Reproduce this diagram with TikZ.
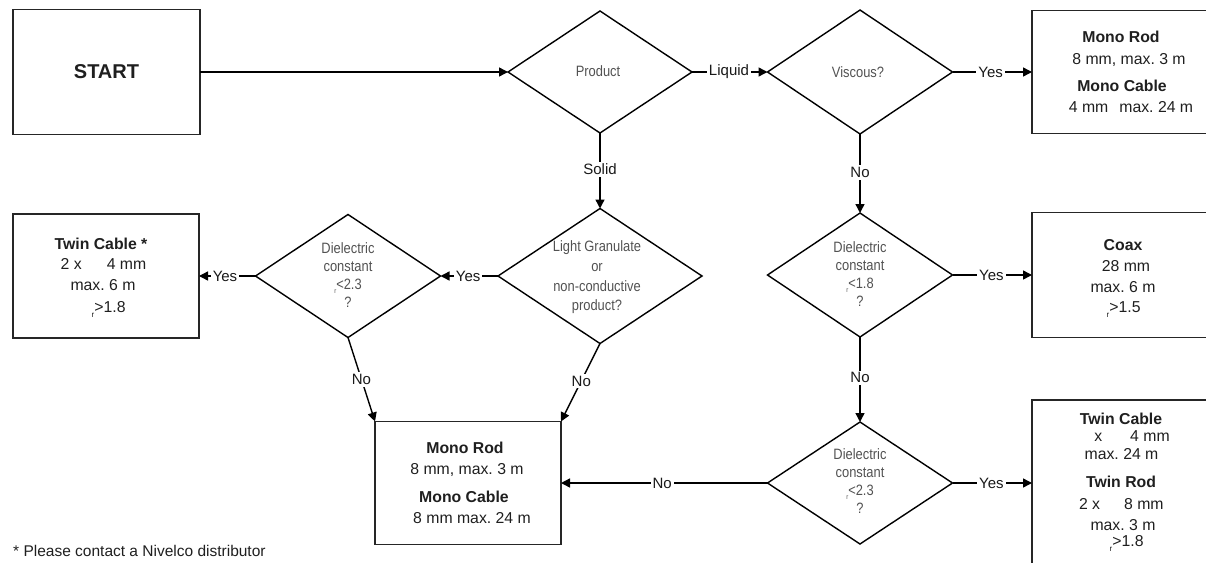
\documentclass[tikz,border=0pt]{standalone}
\usepackage{fontspec}
\setmainfont{Liberation Sans}
\newfontfamily\narrowsf[FakeStretch=0.86]{Liberation Sans}
\usetikzlibrary{shapes.geometric,arrows.meta}
\newcommand\bxfont{\fontsize{15.8}{18}\selectfont}
\newcommand\lbfont{\fontsize{15}{18}\selectfont}
\newcommand\dmfont{\narrowsf\fontsize{15}{18}\selectfont}
\newcommand\dmfontlg{\narrowsf\fontsize{15}{19.7}\selectfont}
\newcommand\myRb{\raisebox{-5pt}{\fontsize{8}{8}\selectfont r}}
\newcommand\myRd{\raisebox{-4pt}{\fontsize{7}{7}\selectfont r}}
\frenchspacing
\begin{document}
\begin{tikzpicture}[x=1pt,y=-1pt,
  ln/.style={line width=1.4pt, draw=black},
  arr/.style={ln, -{Triangle[length=9pt,width=9pt]}},
  box/.style={draw=black!85, line width=1.3pt, inner sep=0pt, outer sep=0pt},
  dia/.style={diamond, draw=black, line width=1.4pt, inner sep=0pt, outer sep=0pt},
  lbl/.style={fill=white, inner sep=2pt, font=\lbfont, text=black!90},
  bt/.style={anchor=base, inner sep=0pt, font=\bxfont, text=black!88},
  bh/.style={anchor=base, inner sep=0pt, font=\bxfont\bfseries, text=black!88},
  bw/.style={anchor=base west, inner sep=0pt, font=\bxfont, text=black!88},
  dt/.style={align=center, inner sep=0pt, font=\dmfont, text=black!68},
  dtl/.style={align=center, inner sep=0pt, font=\dmfontlg, text=black!68}
]
\useasboundingbox (0,0) rectangle (1206,562);
\clip (0,0) rectangle (1206,562);

% boxes
\node[box, minimum width=187pt, minimum height=125pt,
      font=\bfseries\fontsize{20}{24}\selectfont, text=black!88] (start) at (106.5,72) {START};
\node[box, minimum width=180pt, minimum height=123pt] (mr1) at (1122,72) {};
\node[box, minimum width=186pt, minimum height=124pt] (twinL) at (106,276) {};
\node[box, minimum width=180pt, minimum height=125pt] (coax) at (1122,275) {};
\node[box, minimum width=186pt, minimum height=123pt] (mrmid) at (468,483) {};
\node[box, minimum width=180pt, minimum height=175pt] (twinR) at (1122,487.5) {};

% diamonds
\node[dia, minimum width=184pt, minimum height=122pt] (prod) at (600,72) {};
\node[dia, minimum width=185pt, minimum height=124pt] (visc) at (860,72) {};
\node[dia, minimum width=204pt, minimum height=135pt] (lg) at (600,276) {};
\node[dia, minimum width=185pt, minimum height=123pt] (d1) at (348,276) {};
\node[dia, minimum width=185pt, minimum height=124pt] (d2) at (860,275) {};
\node[dia, minimum width=185pt, minimum height=122pt] (d3) at (860,483) {};

% diamond texts
\node[dt] (prodt) at (598,71) {Product};
\node[dt] (visct) at (858,72) {Viscous?};
\node[dtl] (lgt) at (597,277.5) {Light Granulate\\or\\non-conductive\\product?};
\node[dt] (d1t) at (348,275) {Dielectric\\constant\\\myRd<2.3\\?};
\node[dt] (d2t) at (860,274) {Dielectric\\constant\\\myRd<1.8\\?};
\node[dt] (d3t) at (860,481) {Dielectric\\constant\\\myRd<2.3\\?};

% box texts
\node[bh] (m1) at (1121,42.7) {Mono Rod};
\node[bt] (m2) at (1129,64) {8 mm, max. 3 m};
\node[bh] (m3) at (1122,91.7) {Mono Cable};
\node[bt] (m4) at (1131,112.3) {4 mm\hspace{11pt}max. 24 m};

\node[bh] (tl1) at (101,249.3) {Twin Cable *};
\node[bt] (tl2) at (103.5,269.3) {2 x\hspace{25pt}4 mm};
\node[bt] (tl3) at (103,290.7) {max. 6 m};
\node[bw] (tl4) at (91.5,312.6) {\myRb>1.8};

\node[bh] (c1) at (1123,250.7) {Coax};
\node[bt] (c2) at (1126,271.7) {28 mm};
\node[bt] (c3) at (1123,292.3) {max. 6 m};
\node[bw] (c4) at (1106.5,312.7) {\myRb>1.5};

\node[bh] (mm1) at (465,453.3) {Mono Rod};
\node[bt] (mm2) at (467,474) {8 mm, max. 3 m};
\node[bh] (mm3) at (464,502.3) {Mono Cable};
\node[bt] (mm4) at (472,523.3) {8 mm max. 24 m};

\node[bh] (r1) at (1121,424.3) {Twin Cable};
\node[bt] (r2) at (1132,441.7) {x\hspace{28pt}4 mm};
\node[bt] (r3) at (1121.5,459) {max. 24 m};
\node[bh] (r4) at (1121,487.7) {Twin Rod};
\node[bt] (r5) at (1121.3,509) {2 x\hspace{24pt}8 mm};
\node[bt] (r6) at (1123,530) {max. 3 m};
\node[bw] (r7) at (1109.5,546.7) {\myRb>1.8};

% footnote
\node[anchor=base west, inner sep=0pt, font=\fontsize{15.5}{18}\selectfont, text=black!88]
  (foot) at (13,556) {* Please contact a Nivelco distributor};

% connectors
\draw[arr] (start.east) -- (start.east -| prod.west);
\draw[arr] (prod.east) -- node[lbl, pos=0.49] (liq) {Liquid} (visc.west);
\draw[arr] (visc.east) -- node[lbl, pos=0.48] (y1) {Yes} (visc.east -| mr1.west);
\draw[arr] (prod.south) -- node[lbl, pos=0.48] (sol) {Solid} (lg.north);
\draw[arr] (lg.west) -- node[lbl, pos=0.52] (y2) {Yes} (d1.east);
\draw[arr] (d1.west) -- node[lbl, pos=0.54] (y3) {Yes} (d1.west -| twinL.east);
\draw[arr] (d1.south) -- node[lbl, pos=0.5] (n1) {No} (mrmid.north west);
\draw[arr] (lg.south) -- node[lbl, pos=0.48] (n2) {No} (mrmid.north east);
\draw[arr] (visc.south) -- node[lbl, pos=0.49] (n3) {No} (d2.north);
\draw[arr] (d2.east) -- node[lbl, pos=0.49] (y4) {Yes} (d2.east -| coax.west);
\draw[arr] (d2.south) -- node[lbl, pos=0.48] (n4) {No} (d3.north);
\draw[arr] (d3.east) -- node[lbl, pos=0.49] (y5) {Yes} (d3.east -| twinR.west);
\draw[arr] (d3.west) -- node[lbl, pos=0.51] (n5) {No} (d3.west -| mrmid.east);
\end{tikzpicture}
\end{document}
